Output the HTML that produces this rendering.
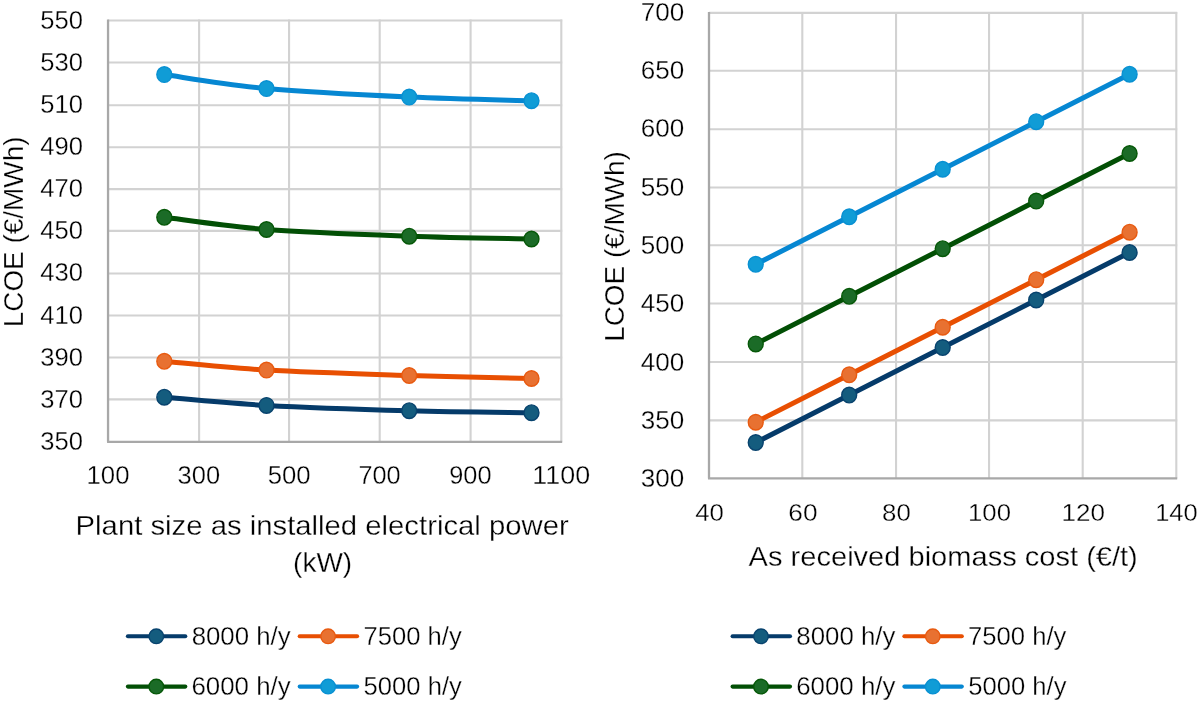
<!DOCTYPE html>
<html><head><meta charset="utf-8"><style>
html,body{margin:0;padding:0;background:#fff;width:1200px;height:703px;overflow:hidden;font-family:"Liberation Sans",sans-serif;}
svg{display:block} svg{will-change:transform}
</style></head><body>
<svg width="1200" height="703" viewBox="0 0 1200 703">
<rect width="1200" height="703" fill="#fff"/>
<line x1="199.10" y1="19.60" x2="199.10" y2="441.80" stroke="#d2d2d2" stroke-width="2.1"/>
<line x1="289.07" y1="19.60" x2="289.07" y2="441.80" stroke="#d2d2d2" stroke-width="2.1"/>
<line x1="379.70" y1="19.60" x2="379.70" y2="441.80" stroke="#d2d2d2" stroke-width="2.1"/>
<line x1="470.60" y1="19.60" x2="470.60" y2="441.80" stroke="#d2d2d2" stroke-width="2.1"/>
<line x1="561.30" y1="19.60" x2="561.30" y2="441.80" stroke="#d2d2d2" stroke-width="2.1"/>
<line x1="108.05" y1="20.50" x2="562.20" y2="20.50" stroke="#d2d2d2" stroke-width="2.1"/>
<line x1="108.05" y1="62.50" x2="562.20" y2="62.50" stroke="#d2d2d2" stroke-width="2.1"/>
<line x1="108.05" y1="105.20" x2="562.20" y2="105.20" stroke="#d2d2d2" stroke-width="2.1"/>
<line x1="108.05" y1="147.20" x2="562.20" y2="147.20" stroke="#d2d2d2" stroke-width="2.1"/>
<line x1="108.05" y1="189.10" x2="562.20" y2="189.10" stroke="#d2d2d2" stroke-width="2.1"/>
<line x1="108.05" y1="230.90" x2="562.20" y2="230.90" stroke="#d2d2d2" stroke-width="2.1"/>
<line x1="108.05" y1="273.50" x2="562.20" y2="273.50" stroke="#d2d2d2" stroke-width="2.1"/>
<line x1="108.05" y1="315.50" x2="562.20" y2="315.50" stroke="#d2d2d2" stroke-width="2.1"/>
<line x1="108.05" y1="357.50" x2="562.20" y2="357.50" stroke="#d2d2d2" stroke-width="2.1"/>
<line x1="108.05" y1="399.40" x2="562.20" y2="399.40" stroke="#d2d2d2" stroke-width="2.1"/>
<line x1="108.05" y1="19.60" x2="108.05" y2="441.80" stroke="#a8a8a8" stroke-width="2.3"/>
<line x1="107.05" y1="441.80" x2="562.20" y2="441.80" stroke="#a8a8a8" stroke-width="2.3"/>
<line x1="802.30" y1="12.00" x2="802.30" y2="478.40" stroke="#d2d2d2" stroke-width="2.1"/>
<line x1="896.05" y1="12.00" x2="896.05" y2="478.40" stroke="#d2d2d2" stroke-width="2.1"/>
<line x1="989.05" y1="12.00" x2="989.05" y2="478.40" stroke="#d2d2d2" stroke-width="2.1"/>
<line x1="1082.70" y1="12.00" x2="1082.70" y2="478.40" stroke="#d2d2d2" stroke-width="2.1"/>
<line x1="1176.30" y1="12.00" x2="1176.30" y2="478.40" stroke="#d2d2d2" stroke-width="2.1"/>
<line x1="709.00" y1="12.90" x2="1177.20" y2="12.90" stroke="#d2d2d2" stroke-width="2.1"/>
<line x1="709.00" y1="70.70" x2="1177.20" y2="70.70" stroke="#d2d2d2" stroke-width="2.1"/>
<line x1="709.00" y1="129.20" x2="1177.20" y2="129.20" stroke="#d2d2d2" stroke-width="2.1"/>
<line x1="709.00" y1="187.50" x2="1177.20" y2="187.50" stroke="#d2d2d2" stroke-width="2.1"/>
<line x1="709.00" y1="245.30" x2="1177.20" y2="245.30" stroke="#d2d2d2" stroke-width="2.1"/>
<line x1="709.00" y1="303.50" x2="1177.20" y2="303.50" stroke="#d2d2d2" stroke-width="2.1"/>
<line x1="709.00" y1="362.00" x2="1177.20" y2="362.00" stroke="#d2d2d2" stroke-width="2.1"/>
<line x1="709.00" y1="420.40" x2="1177.20" y2="420.40" stroke="#d2d2d2" stroke-width="2.1"/>
<line x1="709.00" y1="12.00" x2="709.00" y2="478.40" stroke="#a8a8a8" stroke-width="2.3"/>
<line x1="708.00" y1="478.40" x2="1177.20" y2="478.40" stroke="#a8a8a8" stroke-width="2.3"/>
<path d="M164.30,397.20 C181.33,398.57 225.68,403.15 266.50,405.40 C307.32,407.65 365.03,409.48 409.20,410.70 C453.37,411.92 511.12,412.37 531.50,412.70" fill="none" stroke="#053b6a" stroke-width="5.0" stroke-linejoin="round" stroke-linecap="round"/>
<ellipse cx="164.30" cy="397.20" rx="7.45" ry="7.8" fill="#145c7e" stroke="#08436e" stroke-width="1.4"/>
<ellipse cx="266.50" cy="405.40" rx="7.45" ry="7.8" fill="#145c7e" stroke="#08436e" stroke-width="1.4"/>
<ellipse cx="409.20" cy="410.70" rx="7.45" ry="7.8" fill="#145c7e" stroke="#08436e" stroke-width="1.4"/>
<ellipse cx="531.50" cy="412.70" rx="7.45" ry="7.8" fill="#145c7e" stroke="#08436e" stroke-width="1.4"/>
<path d="M164.30,361.30 C181.33,362.77 225.68,367.73 266.50,370.10 C307.32,372.47 365.03,374.10 409.20,375.50 C453.37,376.90 511.12,378.00 531.50,378.50" fill="none" stroke="#e84f02" stroke-width="5.0" stroke-linejoin="round" stroke-linecap="round"/>
<ellipse cx="164.30" cy="361.30" rx="7.45" ry="7.8" fill="#e87131" stroke="#e85a10" stroke-width="1.4"/>
<ellipse cx="266.50" cy="370.10" rx="7.45" ry="7.8" fill="#e87131" stroke="#e85a10" stroke-width="1.4"/>
<ellipse cx="409.20" cy="375.50" rx="7.45" ry="7.8" fill="#e87131" stroke="#e85a10" stroke-width="1.4"/>
<ellipse cx="531.50" cy="378.50" rx="7.45" ry="7.8" fill="#e87131" stroke="#e85a10" stroke-width="1.4"/>
<path d="M164.30,217.30 C181.33,219.33 225.68,226.35 266.50,229.50 C307.32,232.65 365.03,234.62 409.20,236.20 C453.37,237.78 511.12,238.53 531.50,239.00" fill="none" stroke="#024f05" stroke-width="5.0" stroke-linejoin="round" stroke-linecap="round"/>
<ellipse cx="164.30" cy="217.30" rx="7.45" ry="7.8" fill="#1b6b27" stroke="#065808" stroke-width="1.4"/>
<ellipse cx="266.50" cy="229.50" rx="7.45" ry="7.8" fill="#1b6b27" stroke="#065808" stroke-width="1.4"/>
<ellipse cx="409.20" cy="236.20" rx="7.45" ry="7.8" fill="#1b6b27" stroke="#065808" stroke-width="1.4"/>
<ellipse cx="531.50" cy="239.00" rx="7.45" ry="7.8" fill="#1b6b27" stroke="#065808" stroke-width="1.4"/>
<path d="M164.30,74.60 C181.33,76.93 225.68,84.85 266.50,88.60 C307.32,92.35 365.03,95.08 409.20,97.10 C453.37,99.12 511.12,100.10 531.50,100.70" fill="none" stroke="#0687d2" stroke-width="5.0" stroke-linejoin="round" stroke-linecap="round"/>
<ellipse cx="164.30" cy="74.60" rx="7.45" ry="7.8" fill="#109cd6" stroke="#0890d2" stroke-width="1.4"/>
<ellipse cx="266.50" cy="88.60" rx="7.45" ry="7.8" fill="#109cd6" stroke="#0890d2" stroke-width="1.4"/>
<ellipse cx="409.20" cy="97.10" rx="7.45" ry="7.8" fill="#109cd6" stroke="#0890d2" stroke-width="1.4"/>
<ellipse cx="531.50" cy="100.70" rx="7.45" ry="7.8" fill="#109cd6" stroke="#0890d2" stroke-width="1.4"/>
<path d="M755.74,442.56 L849.20,395.05 L942.70,347.53 L1036.20,300.01 L1129.60,252.50" fill="none" stroke="#053b6a" stroke-width="5.0" stroke-linejoin="round" stroke-linecap="round"/>
<ellipse cx="755.74" cy="442.56" rx="7.45" ry="7.8" fill="#145c7e" stroke="#08436e" stroke-width="1.4"/>
<ellipse cx="849.20" cy="395.05" rx="7.45" ry="7.8" fill="#145c7e" stroke="#08436e" stroke-width="1.4"/>
<ellipse cx="942.70" cy="347.53" rx="7.45" ry="7.8" fill="#145c7e" stroke="#08436e" stroke-width="1.4"/>
<ellipse cx="1036.20" cy="300.01" rx="7.45" ry="7.8" fill="#145c7e" stroke="#08436e" stroke-width="1.4"/>
<ellipse cx="1129.60" cy="252.50" rx="7.45" ry="7.8" fill="#145c7e" stroke="#08436e" stroke-width="1.4"/>
<path d="M755.74,422.25 L849.20,374.74 L942.70,327.23 L1036.20,279.71 L1129.60,232.20" fill="none" stroke="#e84f02" stroke-width="5.0" stroke-linejoin="round" stroke-linecap="round"/>
<ellipse cx="755.74" cy="422.25" rx="7.45" ry="7.8" fill="#e87131" stroke="#e85a10" stroke-width="1.4"/>
<ellipse cx="849.20" cy="374.74" rx="7.45" ry="7.8" fill="#e87131" stroke="#e85a10" stroke-width="1.4"/>
<ellipse cx="942.70" cy="327.23" rx="7.45" ry="7.8" fill="#e87131" stroke="#e85a10" stroke-width="1.4"/>
<ellipse cx="1036.20" cy="279.71" rx="7.45" ry="7.8" fill="#e87131" stroke="#e85a10" stroke-width="1.4"/>
<ellipse cx="1129.60" cy="232.20" rx="7.45" ry="7.8" fill="#e87131" stroke="#e85a10" stroke-width="1.4"/>
<path d="M755.74,343.90 L849.20,296.30 L942.70,248.70 L1036.20,201.10 L1129.60,153.50" fill="none" stroke="#024f05" stroke-width="5.0" stroke-linejoin="round" stroke-linecap="round"/>
<ellipse cx="755.74" cy="343.90" rx="7.45" ry="7.8" fill="#1b6b27" stroke="#065808" stroke-width="1.4"/>
<ellipse cx="849.20" cy="296.30" rx="7.45" ry="7.8" fill="#1b6b27" stroke="#065808" stroke-width="1.4"/>
<ellipse cx="942.70" cy="248.70" rx="7.45" ry="7.8" fill="#1b6b27" stroke="#065808" stroke-width="1.4"/>
<ellipse cx="1036.20" cy="201.10" rx="7.45" ry="7.8" fill="#1b6b27" stroke="#065808" stroke-width="1.4"/>
<ellipse cx="1129.60" cy="153.50" rx="7.45" ry="7.8" fill="#1b6b27" stroke="#065808" stroke-width="1.4"/>
<path d="M755.74,264.30 L849.20,216.78 L942.70,169.25 L1036.20,121.72 L1129.60,74.20" fill="none" stroke="#0687d2" stroke-width="5.0" stroke-linejoin="round" stroke-linecap="round"/>
<ellipse cx="755.74" cy="264.30" rx="7.45" ry="7.8" fill="#109cd6" stroke="#0890d2" stroke-width="1.4"/>
<ellipse cx="849.20" cy="216.78" rx="7.45" ry="7.8" fill="#109cd6" stroke="#0890d2" stroke-width="1.4"/>
<ellipse cx="942.70" cy="169.25" rx="7.45" ry="7.8" fill="#109cd6" stroke="#0890d2" stroke-width="1.4"/>
<ellipse cx="1036.20" cy="121.72" rx="7.45" ry="7.8" fill="#109cd6" stroke="#0890d2" stroke-width="1.4"/>
<ellipse cx="1129.60" cy="74.20" rx="7.45" ry="7.8" fill="#109cd6" stroke="#0890d2" stroke-width="1.4"/>
<text x="40.19" y="28.82" font-family="Liberation Sans, sans-serif" font-size="25.09" fill="#000" stroke="#fff" stroke-width="0.3" stroke-linejoin="round" textLength="42.70" lengthAdjust="spacingAndGlyphs">550</text>
<text x="40.19" y="70.72" font-family="Liberation Sans, sans-serif" font-size="25.09" fill="#000" stroke="#fff" stroke-width="0.3" stroke-linejoin="round" textLength="42.70" lengthAdjust="spacingAndGlyphs">530</text>
<text x="40.19" y="113.02" font-family="Liberation Sans, sans-serif" font-size="25.09" fill="#000" stroke="#fff" stroke-width="0.3" stroke-linejoin="round" textLength="42.70" lengthAdjust="spacingAndGlyphs">510</text>
<text x="40.19" y="155.02" font-family="Liberation Sans, sans-serif" font-size="25.09" fill="#000" stroke="#fff" stroke-width="0.3" stroke-linejoin="round" textLength="42.70" lengthAdjust="spacingAndGlyphs">490</text>
<text x="40.19" y="196.82" font-family="Liberation Sans, sans-serif" font-size="25.09" fill="#000" stroke="#fff" stroke-width="0.3" stroke-linejoin="round" textLength="42.70" lengthAdjust="spacingAndGlyphs">470</text>
<text x="40.19" y="239.22" font-family="Liberation Sans, sans-serif" font-size="25.09" fill="#000" stroke="#fff" stroke-width="0.3" stroke-linejoin="round" textLength="42.70" lengthAdjust="spacingAndGlyphs">450</text>
<text x="40.19" y="281.37" font-family="Liberation Sans, sans-serif" font-size="25.09" fill="#000" stroke="#fff" stroke-width="0.3" stroke-linejoin="round" textLength="42.70" lengthAdjust="spacingAndGlyphs">430</text>
<text x="40.19" y="323.57" font-family="Liberation Sans, sans-serif" font-size="25.09" fill="#000" stroke="#fff" stroke-width="0.3" stroke-linejoin="round" textLength="42.70" lengthAdjust="spacingAndGlyphs">410</text>
<text x="40.19" y="365.82" font-family="Liberation Sans, sans-serif" font-size="25.09" fill="#000" stroke="#fff" stroke-width="0.3" stroke-linejoin="round" textLength="42.70" lengthAdjust="spacingAndGlyphs">390</text>
<text x="40.19" y="407.57" font-family="Liberation Sans, sans-serif" font-size="25.09" fill="#000" stroke="#fff" stroke-width="0.3" stroke-linejoin="round" textLength="42.70" lengthAdjust="spacingAndGlyphs">370</text>
<text x="40.19" y="449.82" font-family="Liberation Sans, sans-serif" font-size="25.09" fill="#000" stroke="#fff" stroke-width="0.3" stroke-linejoin="round" textLength="42.70" lengthAdjust="spacingAndGlyphs">350</text>
<text x="640.87" y="21.05" font-family="Liberation Sans, sans-serif" font-size="25.30" fill="#000" stroke="#fff" stroke-width="0.3" stroke-linejoin="round" textLength="43.48" lengthAdjust="spacingAndGlyphs">700</text>
<text x="640.87" y="79.20" font-family="Liberation Sans, sans-serif" font-size="25.30" fill="#000" stroke="#fff" stroke-width="0.3" stroke-linejoin="round" textLength="43.48" lengthAdjust="spacingAndGlyphs">650</text>
<text x="640.87" y="137.20" font-family="Liberation Sans, sans-serif" font-size="25.30" fill="#000" stroke="#fff" stroke-width="0.3" stroke-linejoin="round" textLength="43.48" lengthAdjust="spacingAndGlyphs">600</text>
<text x="640.87" y="195.63" font-family="Liberation Sans, sans-serif" font-size="25.30" fill="#000" stroke="#fff" stroke-width="0.3" stroke-linejoin="round" textLength="43.48" lengthAdjust="spacingAndGlyphs">550</text>
<text x="640.87" y="253.70" font-family="Liberation Sans, sans-serif" font-size="25.30" fill="#000" stroke="#fff" stroke-width="0.3" stroke-linejoin="round" textLength="43.48" lengthAdjust="spacingAndGlyphs">500</text>
<text x="640.87" y="311.85" font-family="Liberation Sans, sans-serif" font-size="25.30" fill="#000" stroke="#fff" stroke-width="0.3" stroke-linejoin="round" textLength="43.48" lengthAdjust="spacingAndGlyphs">450</text>
<text x="640.87" y="370.70" font-family="Liberation Sans, sans-serif" font-size="25.30" fill="#000" stroke="#fff" stroke-width="0.3" stroke-linejoin="round" textLength="43.48" lengthAdjust="spacingAndGlyphs">400</text>
<text x="640.87" y="429.00" font-family="Liberation Sans, sans-serif" font-size="25.30" fill="#000" stroke="#fff" stroke-width="0.3" stroke-linejoin="round" textLength="43.48" lengthAdjust="spacingAndGlyphs">350</text>
<text x="640.87" y="486.75" font-family="Liberation Sans, sans-serif" font-size="25.30" fill="#000" stroke="#fff" stroke-width="0.3" stroke-linejoin="round" textLength="43.48" lengthAdjust="spacingAndGlyphs">300</text>
<text x="86.57" y="484.30" font-family="Liberation Sans, sans-serif" font-size="25.02" fill="#000" stroke="#fff" stroke-width="0.3" stroke-linejoin="round" textLength="42.92" lengthAdjust="spacingAndGlyphs">100</text>
<text x="177.54" y="484.30" font-family="Liberation Sans, sans-serif" font-size="25.02" fill="#000" stroke="#fff" stroke-width="0.3" stroke-linejoin="round" textLength="42.54" lengthAdjust="spacingAndGlyphs">300</text>
<text x="267.72" y="484.30" font-family="Liberation Sans, sans-serif" font-size="25.02" fill="#000" stroke="#fff" stroke-width="0.3" stroke-linejoin="round" textLength="42.92" lengthAdjust="spacingAndGlyphs">500</text>
<text x="358.49" y="484.30" font-family="Liberation Sans, sans-serif" font-size="25.02" fill="#000" stroke="#fff" stroke-width="0.3" stroke-linejoin="round" textLength="42.14" lengthAdjust="spacingAndGlyphs">700</text>
<text x="449.25" y="484.30" font-family="Liberation Sans, sans-serif" font-size="25.02" fill="#000" stroke="#fff" stroke-width="0.3" stroke-linejoin="round" textLength="42.28" lengthAdjust="spacingAndGlyphs">900</text>
<text x="532.38" y="484.30" font-family="Liberation Sans, sans-serif" font-size="25.02" fill="#000" stroke="#fff" stroke-width="0.3" stroke-linejoin="round" textLength="57.84" lengthAdjust="spacingAndGlyphs">1100</text>
<text x="695.22" y="520.87" font-family="Liberation Sans, sans-serif" font-size="24.64" fill="#000" stroke="#fff" stroke-width="0.3" stroke-linejoin="round" textLength="28.71" lengthAdjust="spacingAndGlyphs">40</text>
<text x="788.34" y="520.87" font-family="Liberation Sans, sans-serif" font-size="24.64" fill="#000" stroke="#fff" stroke-width="0.3" stroke-linejoin="round" textLength="29.15" lengthAdjust="spacingAndGlyphs">60</text>
<text x="882.10" y="520.87" font-family="Liberation Sans, sans-serif" font-size="24.64" fill="#000" stroke="#fff" stroke-width="0.3" stroke-linejoin="round" textLength="28.73" lengthAdjust="spacingAndGlyphs">80</text>
<text x="968.07" y="520.87" font-family="Liberation Sans, sans-serif" font-size="24.64" fill="#000" stroke="#fff" stroke-width="0.3" stroke-linejoin="round" textLength="42.92" lengthAdjust="spacingAndGlyphs">100</text>
<text x="1061.50" y="520.87" font-family="Liberation Sans, sans-serif" font-size="24.64" fill="#000" stroke="#fff" stroke-width="0.3" stroke-linejoin="round" textLength="43.46" lengthAdjust="spacingAndGlyphs">120</text>
<text x="1155.19" y="520.87" font-family="Liberation Sans, sans-serif" font-size="24.64" fill="#000" stroke="#fff" stroke-width="0.3" stroke-linejoin="round" textLength="42.49" lengthAdjust="spacingAndGlyphs">140</text>
<text x="75.58" y="535.10" font-family="Liberation Sans, sans-serif" font-size="27.78" fill="#000" stroke="#fff" stroke-width="0.3" stroke-linejoin="round" textLength="493.14" lengthAdjust="spacingAndGlyphs">Plant size as installed electrical power</text>
<text x="293.10" y="571.50" font-family="Liberation Sans, sans-serif" font-size="27.59" fill="#000" stroke="#fff" stroke-width="0.3" stroke-linejoin="round" textLength="59.08" lengthAdjust="spacingAndGlyphs">(kW)</text>
<text x="748.63" y="566.00" font-family="Liberation Sans, sans-serif" font-size="28.07" fill="#000" stroke="#fff" stroke-width="0.3" stroke-linejoin="round" textLength="389.16" lengthAdjust="spacingAndGlyphs">As received biomass cost (€/t)</text>
<g transform="translate(22.90,327.30) rotate(-90)"><text x="0.00" y="0.00" font-family="Liberation Sans, sans-serif" font-size="28.51" fill="#000" stroke="#fff" stroke-width="0.3" stroke-linejoin="round" textLength="190.82" lengthAdjust="spacingAndGlyphs">LCOE (€/MWh)</text></g>
<g transform="translate(624.20,341.80) rotate(-90)"><text x="0.00" y="0.00" font-family="Liberation Sans, sans-serif" font-size="28.22" fill="#000" stroke="#fff" stroke-width="0.3" stroke-linejoin="round" textLength="190.72" lengthAdjust="spacingAndGlyphs">LCOE (€/MWh)</text></g>
<line x1="127.9" y1="636.3" x2="185.3" y2="636.3" stroke="#053b6a" stroke-width="4.1" stroke-linecap="round"/>
<circle cx="156.3" cy="636.3" r="7.3" fill="#145c7e" stroke="#08436e" stroke-width="1.4"/>
<line x1="299.7" y1="636.3" x2="357.1" y2="636.3" stroke="#e84f02" stroke-width="4.1" stroke-linecap="round"/>
<circle cx="328.1" cy="636.3" r="7.3" fill="#e87131" stroke="#e85a10" stroke-width="1.4"/>
<line x1="127.9" y1="686.6" x2="185.3" y2="686.6" stroke="#024f05" stroke-width="4.1" stroke-linecap="round"/>
<circle cx="156.3" cy="686.6" r="7.3" fill="#1b6b27" stroke="#065808" stroke-width="1.4"/>
<line x1="299.7" y1="686.6" x2="357.1" y2="686.6" stroke="#0687d2" stroke-width="4.1" stroke-linecap="round"/>
<circle cx="328.1" cy="686.6" r="7.3" fill="#109cd6" stroke="#0890d2" stroke-width="1.4"/>
<text x="191.65" y="644.90" font-family="Liberation Sans, sans-serif" font-size="24.88" fill="#000" stroke="#fff" stroke-width="0.3" stroke-linejoin="round" textLength="99.04" lengthAdjust="spacingAndGlyphs">8000 h/y</text>
<text x="363.42" y="644.90" font-family="Liberation Sans, sans-serif" font-size="24.88" fill="#000" stroke="#fff" stroke-width="0.3" stroke-linejoin="round" textLength="98.32" lengthAdjust="spacingAndGlyphs">7500 h/y</text>
<text x="191.46" y="695.10" font-family="Liberation Sans, sans-serif" font-size="24.88" fill="#000" stroke="#fff" stroke-width="0.3" stroke-linejoin="round" textLength="99.23" lengthAdjust="spacingAndGlyphs">6000 h/y</text>
<text x="363.58" y="695.10" font-family="Liberation Sans, sans-serif" font-size="24.88" fill="#000" stroke="#fff" stroke-width="0.3" stroke-linejoin="round" textLength="98.26" lengthAdjust="spacingAndGlyphs">5000 h/y</text>
<line x1="732.6000000000001" y1="636.3" x2="790.0000000000001" y2="636.3" stroke="#053b6a" stroke-width="4.1" stroke-linecap="round"/>
<circle cx="761.0000000000001" cy="636.3" r="7.3" fill="#145c7e" stroke="#08436e" stroke-width="1.4"/>
<line x1="904.4000000000001" y1="636.3" x2="961.8000000000001" y2="636.3" stroke="#e84f02" stroke-width="4.1" stroke-linecap="round"/>
<circle cx="932.8000000000001" cy="636.3" r="7.3" fill="#e87131" stroke="#e85a10" stroke-width="1.4"/>
<line x1="732.6000000000001" y1="686.6" x2="790.0000000000001" y2="686.6" stroke="#024f05" stroke-width="4.1" stroke-linecap="round"/>
<circle cx="761.0000000000001" cy="686.6" r="7.3" fill="#1b6b27" stroke="#065808" stroke-width="1.4"/>
<line x1="904.4000000000001" y1="686.6" x2="961.8000000000001" y2="686.6" stroke="#0687d2" stroke-width="4.1" stroke-linecap="round"/>
<circle cx="932.8000000000001" cy="686.6" r="7.3" fill="#109cd6" stroke="#0890d2" stroke-width="1.4"/>
<text x="796.35" y="644.90" font-family="Liberation Sans, sans-serif" font-size="24.88" fill="#000" stroke="#fff" stroke-width="0.3" stroke-linejoin="round" textLength="99.04" lengthAdjust="spacingAndGlyphs">8000 h/y</text>
<text x="968.12" y="644.90" font-family="Liberation Sans, sans-serif" font-size="24.88" fill="#000" stroke="#fff" stroke-width="0.3" stroke-linejoin="round" textLength="98.32" lengthAdjust="spacingAndGlyphs">7500 h/y</text>
<text x="796.16" y="695.10" font-family="Liberation Sans, sans-serif" font-size="24.88" fill="#000" stroke="#fff" stroke-width="0.3" stroke-linejoin="round" textLength="99.23" lengthAdjust="spacingAndGlyphs">6000 h/y</text>
<text x="968.28" y="695.10" font-family="Liberation Sans, sans-serif" font-size="24.88" fill="#000" stroke="#fff" stroke-width="0.3" stroke-linejoin="round" textLength="98.26" lengthAdjust="spacingAndGlyphs">5000 h/y</text>
</svg>
</body></html>
